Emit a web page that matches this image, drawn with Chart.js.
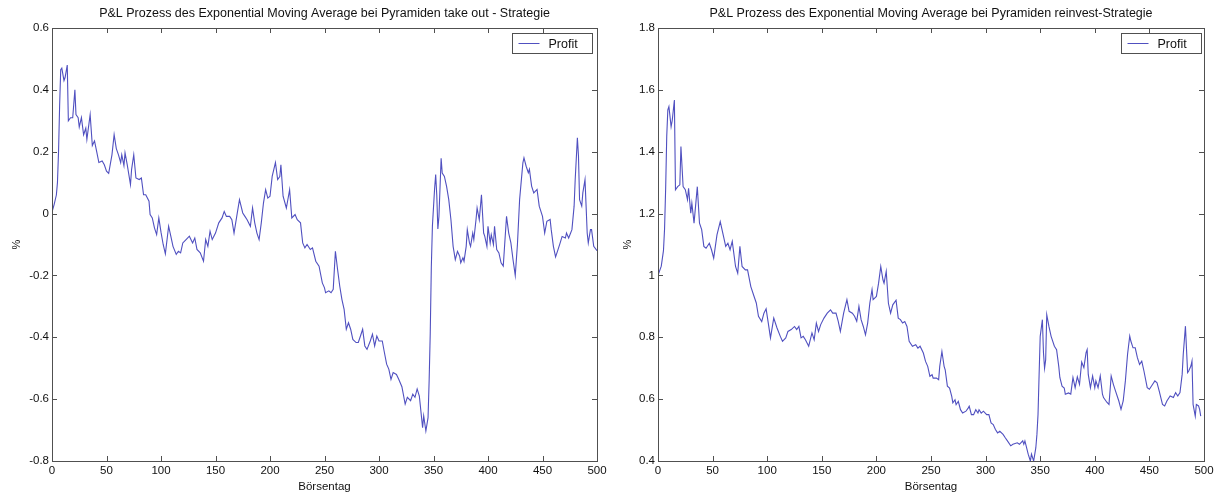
<!DOCTYPE html>
<html>
<head>
<meta charset="utf-8">
<script src="https://cdn.jsdelivr.net/npm/chart.js@4.4.1/dist/chart.umd.min.js"></script>
<style>
  html, body { margin: 0; padding: 0; background: #fff; overflow: hidden; width: 1222px; height: 497px; }
  .wrap { position: absolute; top: 0; height: 497px; }
</style>
</head>
<body>
<div class="wrap" style="left:0px;width:649px"><canvas id="chart1"></canvas></div>
<div class="wrap" style="left:611px;width:640px"><canvas id="chart2"></canvas></div>
<script>
// Börsentag-Achse
var xTicks = [0, 50, 100, 150, 200, 250, 300, 350, 400, 450, 500]
var yTicksTakeOut = [-0.8, -0.6, -0.4, -0.2, 0, 0.2, 0.4, 0.6]
var yTicksReinvest = [0.4, 0.6, 0.8, 1, 1.2, 1.4, 1.6, 1.8]

// Pyramiden take out - Strategie
var takeOutDays = [0,2,4,5,6,7,8,9,11,12,14,15,17,19,21,22,24,25,27,29,31,32,35,37,39,41,43,46,48,50,52,55,57,59,61,63,64,66,67,69,72,73,75,77,80,82,84,86,89,90,92,94,96,98,100,102,104,107,109,111,114,116,118,120,123,126,129,131,133,136,139,141,143,145,147,150,153,156,158,160,163,165,167,170,172,175,177,179,182,184,186,188,190,192,194,196,198,200,202,205,207,209,210,212,215,218,220,223,225,228,230,232,234,237,239,242,245,248,250,251,254,256,258,260,262,264,266,268,270,272,274,276,279,281,283,285,287,289,292,294,296,298,300,303,305,307,309,311,313,316,318,321,324,326,329,331,333,335,337,340,341,343,345,346,347,348,349,350,351,352,353,354,355,357,358,360,362,364,366,368,370,372,374,375,377,378,380,381,383,384,386,387,389,390,392,394,396,397,399,400,402,403,405,406,408,410,412,414,415,417,419,421,423,425,427,429,432,433,435,437,438,440,442,445,447,450,452,454,457,458,460,462,464,466,468,471,472,474,477,479,480,482,483,484,486,487,489,490,491,492,494,495,497,500]
var takeOutProfit = [0.005,0.03,0.06,0.10,0.20,0.35,0.465,0.47,0.43,0.44,0.48,0.30,0.31,0.31,0.40,0.32,0.31,0.28,0.31,0.255,0.276,0.24,0.32,0.22,0.235,0.20,0.165,0.17,0.158,0.137,0.13,0.19,0.255,0.21,0.19,0.165,0.19,0.155,0.196,0.158,0.094,0.142,0.19,0.115,0.11,0.115,0.061,0.061,0.04,-0.003,-0.014,-0.046,-0.068,-0.014,-0.06,-0.10,-0.13,-0.041,-0.073,-0.106,-0.132,-0.122,-0.127,-0.095,-0.084,-0.073,-0.095,-0.079,-0.116,-0.127,-0.154,-0.084,-0.106,-0.057,-0.084,-0.063,-0.03,-0.014,0.007,-0.009,-0.009,-0.02,-0.063,0.002,0.045,0.002,-0.009,-0.02,-0.041,0.018,-0.03,-0.063,-0.084,-0.03,0.034,0.077,0.05,0.056,0.12,0.165,0.11,0.12,0.158,0.056,0.018,0.077,-0.014,-0.003,-0.02,-0.03,-0.095,-0.111,-0.1,-0.116,-0.111,-0.154,-0.17,-0.224,-0.24,-0.256,-0.25,-0.256,-0.245,-0.122,-0.181,-0.235,-0.278,-0.31,-0.374,-0.353,-0.374,-0.407,-0.417,-0.417,-0.396,-0.374,-0.428,-0.439,-0.412,-0.39,-0.428,-0.396,-0.412,-0.412,-0.45,-0.487,-0.503,-0.536,-0.514,-0.52,-0.535,-0.56,-0.616,-0.594,-0.605,-0.584,-0.594,-0.567,-0.59,-0.692,-0.654,-0.703,-0.66,-0.54,-0.389,-0.173,-0.04,0.02,0.08,0.126,0.06,-0.05,-0.009,0.179,0.131,0.12,0.088,0.045,-0.02,-0.106,-0.149,-0.122,-0.138,-0.159,-0.143,-0.154,-0.106,-0.052,-0.095,-0.106,-0.063,-0.084,-0.02,0.018,-0.02,0.061,-0.063,-0.073,-0.106,-0.041,-0.095,-0.068,-0.1,-0.041,-0.116,-0.127,-0.159,-0.17,-0.116,-0.009,-0.063,-0.095,-0.15,-0.2,-0.1,0.045,0.164,0.18,0.153,0.132,0.143,0.089,0.067,0.078,0.024,-0.009,-0.063,-0.025,-0.019,-0.052,-0.106,-0.14,-0.119,-0.097,-0.074,-0.079,-0.063,-0.079,-0.052,0.024,0.11,0.245,0.186,0.045,0.024,0.067,0.11,0.024,-0.063,-0.095,-0.052,-0.052,-0.106,-0.12]

// Pyramiden reinvest-Strategie
var reinvestDays = [0,3,5,6,7,8,9,10,12,13,15,16,18,20,21,23,25,27,28,30,31,33,36,38,40,42,44,47,49,51,54,57,60,62,64,66,68,71,73,75,77,80,82,85,88,90,92,95,97,99,101,103,106,109,112,114,117,119,122,125,127,129,131,133,135,138,141,143,145,147,149,152,155,158,160,163,165,167,170,173,175,178,180,182,184,186,188,190,192,194,196,197,200,202,204,206,207,209,211,213,215,218,220,222,224,226,228,230,233,236,238,240,243,245,247,249,251,252,255,257,258,260,262,263,265,267,269,270,272,273,275,277,279,282,284,285,287,289,291,293,294,296,298,301,303,305,307,309,311,313,316,318,320,323,325,329,331,334,335,336,339,341,342,344,346,347,348,349,350,352,353,354,355,356,358,360,363,365,367,368,370,372,373,376,378,380,382,384,386,388,390,392,393,394,396,398,400,401,403,405,407,408,411,413,415,417,419,422,424,426,428,430,432,433,435,437,439,441,443,445,448,450,453,455,457,459,462,464,466,469,472,474,476,478,480,481,483,485,486,488,489,490,492,493,495,496,497]
var reinvestProfit = [1.0,1.03,1.08,1.15,1.28,1.45,1.535,1.546,1.481,1.50,1.567,1.277,1.287,1.293,1.417,1.287,1.277,1.245,1.282,1.201,1.234,1.169,1.287,1.169,1.148,1.094,1.088,1.104,1.083,1.056,1.131,1.174,1.126,1.094,1.104,1.083,1.11,1.029,1.007,1.094,1.029,1.018,1.018,0.964,0.932,0.911,0.868,0.851,0.878,0.892,0.846,0.798,0.862,0.83,0.803,0.787,0.798,0.819,0.825,0.835,0.825,0.835,0.798,0.803,0.792,0.771,0.814,0.792,0.846,0.819,0.841,0.862,0.878,0.889,0.878,0.878,0.852,0.819,0.878,0.922,0.884,0.878,0.868,0.852,0.9,0.857,0.835,0.808,0.846,0.911,0.954,0.922,0.932,0.975,1.029,0.986,0.975,1.013,0.91,0.878,0.905,0.92,0.862,0.857,0.846,0.851,0.835,0.787,0.771,0.776,0.765,0.771,0.749,0.722,0.706,0.674,0.679,0.668,0.668,0.663,0.706,0.754,0.706,0.695,0.642,0.636,0.609,0.588,0.598,0.582,0.593,0.566,0.555,0.561,0.571,0.577,0.55,0.55,0.566,0.555,0.566,0.555,0.561,0.55,0.55,0.523,0.518,0.502,0.491,0.496,0.486,0.475,0.465,0.449,0.454,0.459,0.454,0.465,0.454,0.465,0.422,0.40,0.422,0.40,0.443,0.486,0.55,0.68,0.803,0.857,0.75,0.70,0.727,0.873,0.835,0.803,0.771,0.76,0.706,0.67,0.642,0.636,0.616,0.62,0.616,0.67,0.637,0.672,0.648,0.72,0.702,0.75,0.76,0.68,0.637,0.675,0.637,0.659,0.637,0.675,0.616,0.605,0.59,0.583,0.675,0.648,0.626,0.594,0.567,0.594,0.659,0.745,0.804,0.788,0.766,0.766,0.734,0.712,0.723,0.691,0.637,0.632,0.648,0.659,0.653,0.626,0.583,0.578,0.594,0.61,0.605,0.621,0.61,0.621,0.68,0.745,0.836,0.686,0.691,0.707,0.723,0.583,0.545,0.583,0.578,0.567,0.545]

var lineColor = '#5050c0'
var axisColor = '#505050'
var fontFamily = '"Liberation Sans", Arial, sans-serif'

/* Rahmen mit Ticks nach innen + Legende im Plot (MATLAB-Stil) */
var matlabBox = {
    id: 'matlabBox',
    afterDraw: function (chart, args, opts) {
        var ctx = chart.ctx
        var a = chart.chartArea
        var xs = chart.scales.x
        var ys = chart.scales.y
        var t = 5
        ctx.save()
        ctx.strokeStyle = axisColor
        ctx.lineWidth = 1
        ctx.beginPath()
        xs.ticks.forEach(function (tk) {
            var px = Math.round(xs.getPixelForValue(tk.value)) + 0.5
            ctx.moveTo(px, a.bottom); ctx.lineTo(px, a.bottom - t)
            ctx.moveTo(px, a.top); ctx.lineTo(px, a.top + t)
        })
        ys.ticks.forEach(function (tk) {
            var py = Math.round(ys.getPixelForValue(tk.value)) + 0.5
            ctx.moveTo(a.left, py); ctx.lineTo(a.left + t, py)
            ctx.moveTo(a.right, py); ctx.lineTo(a.right - t, py)
        })
        ctx.stroke()
        ctx.strokeRect(Math.round(a.left) + 0.5, Math.round(a.top) + 0.5,
            Math.round(a.right - a.left), Math.round(a.bottom - a.top))

        // Legende
        var ds = chart.data.datasets[0]
        var w = opts.width, h = 20
        var bx = Math.round(a.right - opts.inset - w) + 0.5
        var by = Math.round(a.top + 5) + 0.5
        ctx.fillStyle = '#fff'
        ctx.fillRect(bx, by, w, h)
        ctx.strokeStyle = axisColor
        ctx.strokeRect(bx, by, w, h)
        ctx.strokeStyle = ds.borderColor
        ctx.beginPath()
        ctx.moveTo(bx + 6, by + h / 2)
        ctx.lineTo(bx + 27, by + h / 2)
        ctx.stroke()
        ctx.fillStyle = '#111'
        ctx.font = '12.5px ' + fontFamily
        ctx.textBaseline = 'middle'
        ctx.textAlign = 'left'
        ctx.fillText(ds.label, bx + 36, by + h / 2 + 1)
        ctx.restore()
    }
}

function makeChart(id, title, days, values, yTicks, axisWidth, padRight, legendInset) {
    var ctx = document.getElementById(id).getContext('2d')
    var points = days.map(function (d, i) { return { x: d, y: values[i] } })
    return new Chart(ctx, {
        type: 'line',
        data: {
            datasets: [{
                label: 'Profit',
                data: points,
                borderColor: lineColor,
                borderWidth: 1.1,
                pointRadius: 0,
                tension: 0,
                fill: false
            }]
        },
        options: {
            responsive: true,
            maintainAspectRatio: false,
            animation: false,
            layout: { padding: { left: 0, right: padRight, top: 0, bottom: 0 } },
            plugins: {
                legend: { display: false },
                tooltip: { enabled: false },
                title: {
                    display: true,
                    fullSize: false, // centré sur la zone du graphe
                    text: title,
                    color: '#111',
                    font: { family: fontFamily, size: 12.5, weight: 'normal' },
                    padding: { top: 6, bottom: 7 }
                },
                matlabBox: { width: 80, inset: legendInset }
            },
            scales: {
                x: {
                    type: 'linear',
                    min: 0,
                    max: 500,
                    grid: { display: false, drawTicks: false },
                    border: { display: false },
                    afterBuildTicks: function (s) { s.ticks = xTicks.map(function (v) { return { value: v } }) },
                    afterFit: function (s) { s.height = 36 },
                    ticks: {
                        color: '#111',
                        padding: 3,
                        maxRotation: 0,
                        autoSkip: false,
                        font: { family: fontFamily, size: 11.5 },
                        callback: function (v) { return String(v) }
                    },
                    title: {
                        display: true,
                        text: 'Börsentag',
                        color: '#111',
                        font: { family: fontFamily, size: 11.5 },
                        padding: { top: 0, bottom: 3 }
                    }
                },
                y: {
                    min: yTicks[0],
                    max: yTicks[yTicks.length - 1],
                    grid: { display: false, drawTicks: false },
                    border: { display: false },
                    afterBuildTicks: function (s) { s.ticks = yTicks.map(function (v) { return { value: v } }) },
                    afterFit: function (s) { s.width = axisWidth },
                    ticks: {
                        color: '#111',
                        padding: 3,
                        autoSkip: false,
                        font: { family: fontFamily, size: 11.5 },
                        callback: function (v) { return String(v) }
                    },
                    title: {
                        display: true,
                        text: '%',
                        color: '#111',
                        font: { family: fontFamily, size: 11 },
                        padding: { top: 10, bottom: 0 }
                    }
                }
            }
        },
        plugins: [matlabBox]
    })
}

/* Création des deux graphes */
var chart1 = makeChart('chart1', 'P&L Prozess des Exponential Moving Average bei Pyramiden take out - Strategie',
    takeOutDays, takeOutProfit, yTicksTakeOut, 52, 52, 5)
var chart2 = makeChart('chart2', 'P&L Prozess des Exponential Moving Average bei Pyramiden reinvest-Strategie',
    reinvestDays, reinvestProfit, yTicksReinvest, 47, 47, 3)
</script>
</body>
</html>
